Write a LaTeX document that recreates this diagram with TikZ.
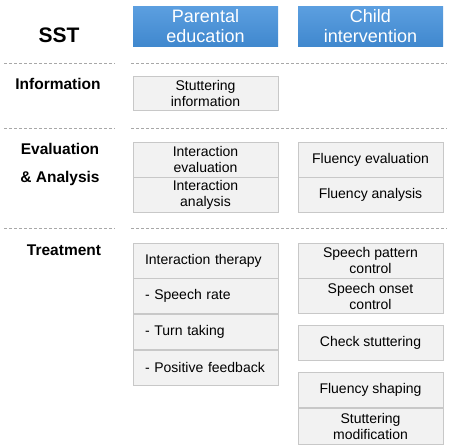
\documentclass[tikz,border=0pt]{standalone}
\usepackage{fontspec}
\setmainfont{Liberation Sans}
\usepackage{xcolor}
\usetikzlibrary{positioning}

\definecolor{headtop}{HTML}{5C9FE0}
\definecolor{headbot}{HTML}{4088CE}
\definecolor{cellfill}{HTML}{F2F2F2}
\definecolor{cellline}{HTML}{C8C8C8}
\definecolor{sepline}{HTML}{A8A8A8}

\begin{document}
\begin{tikzpicture}[
 x=1pt,y=1pt,
 node distance=0pt,
 head/.style={top color=headtop,bottom color=headbot,text=white,align=center,
   minimum width=145pt,minimum height=40pt,inner sep=0pt,
   font=\fontsize{18}{20}\selectfont},
 cell/.style={draw=cellline,fill=cellfill,align=center,minimum width=145pt,
   minimum height=35pt,inner sep=0pt,line width=0.8pt,
   font=\fontsize{14}{16}\selectfont},
 lcell/.style={cell,align=left,text width=121pt,inner xsep=12pt},
 rowlabel/.style={font=\bfseries\fontsize{15.5}{18}\selectfont,inner sep=0pt},
 sep/.style={draw=sepline,dash pattern=on 3pt off 2pt,line width=0.6pt}
]
\useasboundingbox (0,0) rectangle (455,-445);

% column heads
\node[head] (parent) at (205.5,-26) {Parental\\education};
\node[head] (child) at (370.5,-26) {Child\\intervention};

% row labels
\node[rowlabel,font=\bfseries\fontsize{21}{24}\selectfont] (sst) at (59,-35) {SST};
\node[rowlabel] (info) at (58,-84) {Information};
\node[rowlabel] (eval) at (60,-149) {Evaluation};
\node[rowlabel] (anal) at (60,-178) {\& Analysis};
\node[rowlabel] (treat) at (64,-250) {Treatment};

% separators
\coordinate (s1a) at (4,-63);   \coordinate (s1b) at (115,-63);
\coordinate (s1c) at (131,-63); \coordinate (s1d) at (447,-63);
\coordinate (s2a) at (4,-128);  \coordinate (s2b) at (115,-128);
\coordinate (s2c) at (131,-128);\coordinate (s2d) at (447,-128);
\coordinate (s3a) at (4,-228);  \coordinate (s3b) at (115,-228);
\coordinate (s3c) at (131,-228);\coordinate (s3d) at (447,-228);
\draw[sep] (s1a)--(s1b) (s1c)--(s1d);
\draw[sep] (s2a)--(s2b) (s2c)--(s2d);
\draw[sep] (s3a)--(s3b) (s3c)--(s3d);

% information
\node[cell,minimum height=34pt] (stutinfo) at (205.5,-93) {Stuttering\\information};

% evaluation & analysis
\node[cell] (ieval) at (205.5,-159.5) {Interaction\\evaluation};
\node[cell,below=of ieval] (ianal) {Interaction\\analysis};
\node[cell] (feval) at (370.5,-159.5) {Fluency evaluation};
\node[cell,below=of feval] (fanal) {Fluency analysis};

% treatment, parental side
\node[lcell] (itherapy) at (205.5,-260.5) {Interaction therapy};
\node[lcell,below=of itherapy] (srate) {- Speech rate};
\node[lcell,below=of srate] (turn) {- Turn taking};
\node[lcell,below=of turn] (posfb) {- Positive feedback};

% treatment, child side
\node[cell] (spattern) at (370.5,-260.5) {Speech pattern\\control};
\node[cell,below=of spattern] (sonset) {Speech onset\\control};
\node[cell,below=11pt of sonset] (check) {Check stuttering};
\node[cell,below=11pt of check] (fshape) {Fluency shaping};
\node[cell,below=of fshape,minimum height=36pt] (smod) {Stuttering\\modification};
\end{tikzpicture}
\end{document}
